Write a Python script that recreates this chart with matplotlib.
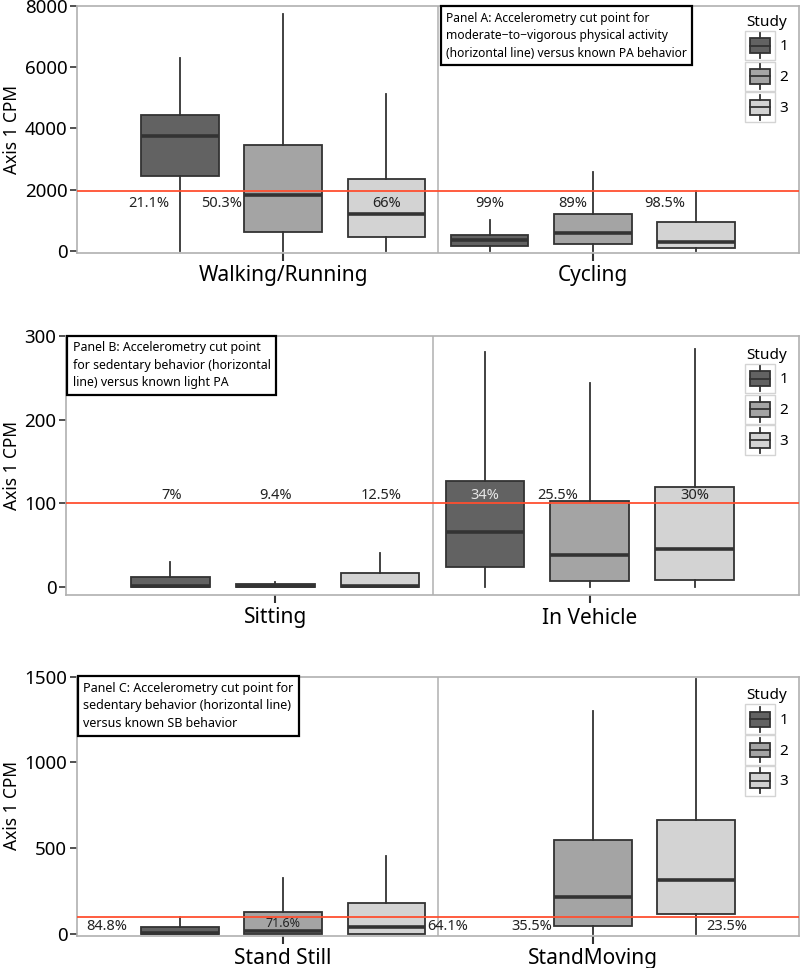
import matplotlib
matplotlib.use("Agg")
import matplotlib.pyplot as plt
from matplotlib.patches import Patch, Rectangle
from matplotlib.lines import Line2D
from matplotlib.legend_handler import HandlerBase

plt.rcParams['font.family'] = ['Noto Sans', 'DejaVu Sans']

# ---------------- data ----------------
studies = ["1", "2", "3"]
study_colors = ["#626262", "#a4a4a4", "#d3d3d3"]

# Panel A  (whislo, q1, med, q3, whishi) per study
cats_A = ["Walking/Running", "Cycling"]
walk_s1 = [0, 2449, 3766, 4430, 6312]
walk_s2 = [0, 610, 1839, 3471, 7739]
walk_s3 = [0, 468, 1198, 2341, 5127]
cyc_s1 = [0, 174, 359, 522, 1012]
cyc_s2 = [0, 229, 578, 1198, 2590]
cyc_s3 = [0, 109, 304, 957, 1952]
cut_A = 1952
labels_A = ["21.1%", "50.3%", "66%", "99%", "89%", "98.5%"]
labx_A = [-0.432, -0.197, 0.335, 0.668, 0.935, 1.232]
laby_A = [1535, 1535, 1535, 1535, 1535, 1535]

# Panel B
cats_B = ["Sitting", "In Vehicle"]
sit_s1 = [0, 0, 1, 12, 30]
sit_s2 = [0, 0, 1, 3, 5]
sit_s3 = [0, 0, 1, 16, 40]
veh_s1 = [0, 24, 65, 127, 281]
veh_s2 = [0, 7, 38, 102, 244]
veh_s3 = [0, 8, 45, 119, 285]
cut_B = 100
labels_B = ["7%", "9.4%", "12.5%", "34%", "25.5%", "30%"]
labx_B = [-0.33, 0.0, 0.336, 0.667, 0.898, 1.333]
laby_B = [109, 109, 109, 109, 109, 109]

# Panel C
cats_C = ["Stand Still", "StandMoving"]
still_s1 = [0, 0, 8, 44, 99]
still_s2 = [0, 3, 19, 128, 326]
still_s3 = [0, 4, 42, 184, 458]
move_s1 = None
move_s2 = [0, 50, 215, 551, 1302]
move_s3 = [0, 116, 314, 663, 1484]
cut_C = 100
labels_C = ["84.8%", "71.6%", "64.1%", "35.5%", "23.5%"]
labx_C = [-0.568, 0.0, 0.532, 0.803, 1.432]
laby_C = [44, 64, 44, 44, 44]

panel_texts = [
    "Panel A: Accelerometry cut point for\nmoderate\u2212to\u2212vigorous physical activity\n(horizontal line) versus known PA behavior",
    "Panel B: Accelerometry cut point\nfor sedentary behavior (horizontal\nline) versus known light PA",
    "Panel C: Accelerometry cut point for\nsedentary behavior (horizontal line)\nversus known SB behavior",
]

EDGE = "#333333"
SPINE = "#b0b0b0"
RED = "#ff4f30"


class BoxHandler(HandlerBase):
    def create_artists(self, legend, orig_handle, xdescent, ydescent,
                       width, height, fontsize, trans):
        x0, y0 = -xdescent, -ydescent
        fc = orig_handle.get_facecolor()
        arts = []
        arts.append(Rectangle((x0, y0), width, height, fc="white",
                              ec="#d4d4d4", lw=1.0, transform=trans))
        bw, bh = 0.68 * width, 0.5 * height
        bx, by = x0 + (width - bw) / 2, y0 + (height - bh) / 2
        arts.append(Rectangle((bx, by), bw, bh, fc=fc, ec=EDGE, lw=1.3,
                              transform=trans))
        xc = x0 + width / 2
        arts.append(Line2D([bx, bx + bw], [by + bh / 2] * 2, color=EDGE,
                           lw=1.3, transform=trans))
        arts.append(Line2D([xc, xc], [y0 + 0.08 * height, by], color=EDGE,
                           lw=1.3, transform=trans))
        arts.append(Line2D([xc, xc], [by + bh, y0 + 0.92 * height],
                           color=EDGE, lw=1.3, transform=trans))
        return arts


def stats_from(v):
    return dict(whislo=v[0], q1=v[1], med=v[2], q3=v[3], whishi=v[4],
                fliers=[])


def draw_panel(ax, cats, groups, cut, ylim, yticks, labels, labx, laby,
               label_colors, label_sizes, ptext, text_pos, leg_anchor,
               ylab_x):
    offsets = [-1 / 3, 0, 1 / 3]
    for gi, grp in enumerate(groups):
        for si, vals in enumerate(grp):
            if vals is None:
                continue
            ax.bxp([stats_from(vals)], positions=[gi + offsets[si]],
                   widths=0.25, patch_artist=True, showcaps=False,
                   showfliers=False,
                   boxprops=dict(facecolor=study_colors[si], edgecolor=EDGE,
                                 linewidth=1.3),
                   whiskerprops=dict(color=EDGE, linewidth=1.3),
                   medianprops=dict(color=EDGE, linewidth=2.6),
                   zorder=2)
    ax.axhline(cut, color=RED, lw=1.3, zorder=3)
    ax.axvline(0.5, color=SPINE, lw=1.1, zorder=1)
    for t, x, y, c, s in zip(labels, labx, laby, label_colors, label_sizes):
        ax.text(x, y, t, ha="center", va="center", fontsize=s, color=c,
                zorder=4)
    ax.set_xlim(-0.665, 1.665)
    ax.set_ylim(*ylim)
    ax.set_yticks(yticks)
    ax.set_xticks([0, 1])
    ax.set_xticklabels(cats, fontsize=15)
    ax.tick_params(axis="y", labelsize=13.5, length=5, width=1.2,
                   color=EDGE, pad=2)
    ax.tick_params(axis="x", length=6, width=1.5, color=EDGE, pad=3)
    for sp in ax.spines.values():
        sp.set_color(SPINE)
        sp.set_linewidth(1.2)
    ax.set_ylabel("Axis 1 CPM", fontsize=12.5)
    ax.yaxis.set_label_coords(ylab_x, 0.5)
    ax.text(text_pos[0], text_pos[1], ptext, transform=ax.transAxes,
            ha="left", va="top", fontsize=text_pos[2], linespacing=1.45,
            zorder=5,
            bbox=dict(boxstyle="square,pad=0.45", fc="white", ec="black",
                      lw=1.6))
    handles = [Patch(facecolor=c) for c in study_colors]
    leg = ax.legend(handles, studies, title="Study", loc="upper right",
                    bbox_to_anchor=leg_anchor, frameon=False, fontsize=11,
                    title_fontsize=11, handler_map={Patch: BoxHandler()},
                    handlelength=1.95, handleheight=2.6, labelspacing=0.08,
                    handletextpad=0.3, borderpad=0.0, borderaxespad=0.0)
    leg.set_zorder(6)


fig = plt.figure(figsize=(8, 9.68), dpi=100)
axA = fig.add_axes([77 / 800, (968 - 253) / 968, 722 / 800, 247 / 968])
axB = fig.add_axes([66 / 800, (968 - 595) / 968, 733 / 800, 259 / 968])
axC = fig.add_axes([77 / 800, (968 - 935.5) / 968, 722 / 800, 259 / 968])

dark = "#222222"
draw_panel(axA, cats_A, [[walk_s1, walk_s2, walk_s3], [cyc_s1, cyc_s2, cyc_s3]],
           cut_A, (-70, 8000), [0, 2000, 4000, 6000, 8000],
           labels_A, labx_A, laby_A, [dark] * 6, [10.5] * 6,
           panel_texts[0], (0.511, 0.977, 8.7), (0.985, 0.965),
           (21 - 77) / 722)
draw_panel(axB, cats_B, [[sit_s1, sit_s2, sit_s3], [veh_s1, veh_s2, veh_s3]],
           cut_B, (-10, 300), [0, 100, 200, 300],
           labels_B, labx_B, laby_B,
           [dark, dark, dark, "#e6e6e6", dark, dark], [10.5] * 6,
           panel_texts[1], (0.009, 0.979, 8.9), (0.985, 0.955),
           (21 - 66) / 733)
draw_panel(axC, cats_C, [[still_s1, still_s2, still_s3], [move_s1, move_s2, move_s3]],
           cut_C, (-7, 1500), [0, 500, 1000, 1500],
           labels_C, labx_C, laby_C, [dark] * 5,
           [10.5, 9, 10.5, 10.5, 10.5],
           panel_texts[2], (0.009, 0.979, 9.0), (0.985, 0.955),
           (21 - 77) / 722)

fig.savefig("out.png", dpi=100)
